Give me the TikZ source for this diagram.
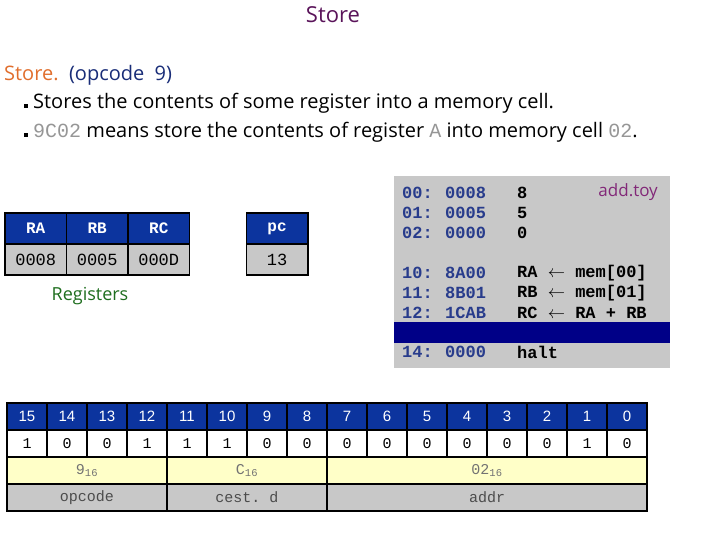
\documentclass[tikz,border=0pt]{standalone}
\usepackage{fontspec}
\setmainfont{Open Sans}
\setmonofont{Liberation Mono}
\newfontfamily\hdrfont{Liberation Sans}
\usepackage{xcolor}
\usetikzlibrary{positioning}
\definecolor{hdrblue}{RGB}{12,52,158}
\definecolor{barnavy}{RGB}{0,0,135}
\definecolor{panelgray}{RGB}{200,200,200}
\definecolor{cellyellow}{RGB}{255,255,200}
\definecolor{titlepurple}{RGB}{90,20,90}
\definecolor{storeorange}{RGB}{225,110,45}
\definecolor{opblue}{RGB}{25,45,120}
\definecolor{reggreen}{RGB}{30,110,30}
\definecolor{addrblue}{RGB}{40,60,140}
\definecolor{toypurple}{RGB}{130,40,120}
\definecolor{codegray}{RGB}{150,150,150}

\begin{document}
\begin{tikzpicture}[x=1pt, y=-1pt,
    txt/.style={anchor=west, inner sep=0pt, font=\fontsize{20}{24}\selectfont},
    regcell/.style={draw=black, line width=1.5pt, minimum width=61.5pt, minimum height=31pt, inner sep=0pt},
    reghdr/.style={regcell, fill=hdrblue, text=white, font=\ttfamily\bfseries\fontsize{16}{19}\selectfont},
    regval/.style={regcell, fill=panelgray, font=\ttfamily\fontsize{17}{20}\selectfont},
    memtxt/.style={anchor=west, inner sep=0pt, font=\ttfamily\bfseries\fontsize{17}{20}\selectfont},
    bitcell/.style={draw=black, line width=1.5pt, minimum width=40pt, minimum height=27pt, inner sep=0pt, font=\ttfamily\fontsize{15}{18}\selectfont},
    bithdr/.style={bitcell, fill=hdrblue, text=white, font=\hdrfont\fontsize{15}{18}\selectfont},
    bitval/.style={bitcell, fill=white},
    hexcell/.style={bitcell, fill=cellyellow, text=black!55},
    namecell/.style={bitcell, fill=panelgray, text=black!70}]
  \useasboundingbox[fill=white] (0,0) rectangle (720,540);

  % heading and text
  \node[font=\fontsize{22}{26}\selectfont, text=titlepurple] (title) at (333,15) {Store};
  \node[txt] (head) at (4,75) {\textcolor{storeorange}{Store.}\ \ \textcolor{opblue}{(opcode\ \ 9)}};
  \node[txt] (line1) at (33,103) {Stores the contents of some register into a memory cell.};
  \node[txt] (line2) at (33,132) {\textcolor{codegray}{\ttfamily 9C02} means store the contents of register \textcolor{codegray}{\ttfamily A} into memory cell \textcolor{codegray}{\ttfamily 02}.};
  \fill (24,104) rectangle (28,108);
  \fill (24,133) rectangle (28,137);

  % registers
  \foreach \r/\v [count=\i from 0] in {RA/0008, RB/0005, RC/000D} {
    \node[reghdr] (h\r) at (35.75+61.5*\i,228.5) {\r};
    \node[regval] (v\r) at (35.75+61.5*\i,259.5) {\v};
  }
  \node[reghdr] (hpc) at (277,228.5) {pc};
  \node[regval] (vpc) at (277,259.5) {13};
  \node[font=\fontsize{18}{21}\selectfont, text=reggreen] (regs) at (90,296) {Registers};

  % memory listing
  \fill[panelgray] (394,176) rectangle (670,368);
  \fill[barnavy] (394,322) rectangle (670,343);
  \foreach \a/\v/\c/\y in {00/0008/8/193, 01/0005/5/213, 02/0000/0/233,
      10/8A00/{RA $\leftarrow$ mem[00]}/273, 11/8B01/{RB $\leftarrow$ mem[01]}/293,
      12/1CAB/{RC $\leftarrow$ RA + RB}/313, 14/0000/halt/352} {
    \node[memtxt, text=addrblue] (a\a) at (402,\y) {\a:};
    \node[memtxt, text=addrblue] (v\a) at (445,\y) {\v};
    \node[memtxt] (c\a) at (517,\y) {\c};
  }
  \node[anchor=east, inner sep=0pt, font=\fontsize{17}{20}\selectfont, text=toypurple] (toy) at (658,192) {add.toy};

  % instruction bits
  \foreach \v [count=\i from 0] in {1,0,0,1,1,1,0,0,0,0,0,0,0,0,1,0} {
    \pgfmathtruncatemacro\b{15-\i}
    \node[bithdr] (h\b) at (27+40*\i,416.5) {\b};
    \node[bitval] (b\b) at (27+40*\i,443.5) {\v};
  }
  \node[hexcell, minimum width=160pt] (hexop) at (87,470.5) {9\textsubscript{16}};
  \node[hexcell, minimum width=160pt] (hexd) at (247,470.5) {C\textsubscript{16}};
  \node[hexcell, minimum width=320pt] (hexaddr) at (487,470.5) {02\textsubscript{16}};
  \node[namecell, minimum width=160pt] (nameop) at (87,497.5) {opcode};
  \node[namecell, minimum width=160pt] (named) at (247,497.5) {cest. d};
  \node[namecell, minimum width=320pt] (nameaddr) at (487,497.5) {addr};
\end{tikzpicture}
\end{document}
